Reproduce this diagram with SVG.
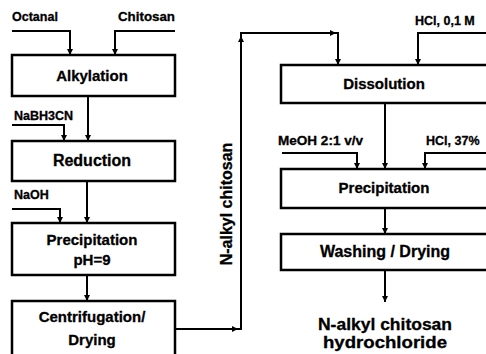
<svg xmlns="http://www.w3.org/2000/svg" width="486" height="354" viewBox="0 0 486 354">
<style>
.box{fill:#fff;stroke:#000;stroke-width:2.5}
.c{fill:none;stroke:#000;stroke-width:2}
.t{font-family:"Liberation Sans",Arial,sans-serif;font-weight:bold;font-size:15px;text-anchor:middle;fill:#000;stroke:#000;stroke-width:0.3}
.s{font-family:"Liberation Sans",Arial,sans-serif;font-weight:bold;font-size:12.5px;fill:#000;stroke:#000;stroke-width:0.3}
.ah{fill:#000}
</style>
<defs>
<marker id="arr" viewBox="0 0 10 10" refX="10" refY="5" markerWidth="3" markerHeight="3" orient="auto" markerUnits="strokeWidth">
<path d="M0,0 L10,5 L0,10 Z" fill="#000"/>
</marker>
</defs>
<rect x="-10" y="-10" width="506" height="374" fill="#fff"/>
<g id="connectors">
<path class="c" d="M12,31 H70 V55" marker-end="url(#arr)"/>
<path class="c" d="M175,31 H115 V55" marker-end="url(#arr)"/>
<path class="c" d="M88,96 V141" marker-end="url(#arr)"/>
<path class="c" d="M12,125 H64 V141" marker-end="url(#arr)"/>
<path class="c" d="M87,181 V223" marker-end="url(#arr)"/>
<path class="c" d="M12,209 H60 V223" marker-end="url(#arr)"/>
<path class="c" d="M87,275 V301" marker-end="url(#arr)"/>
<path class="c" d="M175,329 H241 V33 H338 V65" marker-end="url(#arr)"/>
<polygon class="ah" points="238,329 232,326 232,332"/>
<polygon class="ah" points="241,36 238,42 244,42"/>
<polygon class="ah" points="336,33 330,30 330,36"/>
<path class="c" d="M490,33 H418 V65" marker-end="url(#arr)"/>
<path class="c" d="M385,103 V169" marker-end="url(#arr)"/>
<path class="c" d="M282,153 H357 V169" marker-end="url(#arr)"/>
<path class="c" d="M490,153 H425 V169" marker-end="url(#arr)"/>
<path class="c" d="M385,208 V234" marker-end="url(#arr)"/>
<path class="c" d="M385,270 V302" marker-end="url(#arr)"/>
</g>
<g id="labels">
<text class="s" x="12" y="21">Octanal</text>
<text class="s" x="118" y="21" textLength="57" lengthAdjust="spacingAndGlyphs">Chitosan</text>
<text class="s" x="14" y="120">NaBH3CN</text>
<text class="s" x="14" y="199">NaOH</text>
<text class="s" x="278" y="145" textLength="85" lengthAdjust="spacingAndGlyphs">MeOH 2:1 v/v</text>
<text class="s" x="426" y="145">HCl, 37%</text>
<text class="s" x="415" y="25">HCl, 0,1 M</text>
<text class="t" transform="translate(232,204) rotate(-90)" style="font-size:16px">N-alkyl chitosan</text>
</g>
<g id="alkylation">
<rect class="box" x="12" y="55" width="163" height="41"/>
<text class="t" x="92" y="81">Alkylation</text>
</g>
<g id="reduction">
<rect class="box" x="12" y="141" width="163" height="40"/>
<text class="t" x="92" y="166" style="font-size:16px">Reduction</text>
</g>
<g id="precipitation1">
<rect class="box" x="12" y="223" width="163" height="52"/>
<text class="t" x="92" y="245">Precipitation</text>
<text class="t" x="92" y="265">pH=9</text>
</g>
<g id="centrifugation">
<rect class="box" x="12" y="301" width="163" height="60"/>
<text class="t" x="92" y="322">Centrifugation/</text>
<text class="t" x="92" y="345">Drying</text>
</g>
<g id="dissolution">
<rect class="box" x="281" y="65" width="215" height="38"/>
<text class="t" x="384" y="89">Dissolution</text>
</g>
<g id="precipitation2">
<rect class="box" x="281" y="169" width="215" height="39"/>
<text class="t" x="384" y="193">Precipitation</text>
</g>
<g id="washing">
<rect class="box" x="281" y="234" width="215" height="36"/>
<text class="t" x="385" y="257" style="font-size:16px">Washing / Drying</text>
</g>
<g id="product">
<text class="t" x="385" y="330" style="font-size:16px" textLength="134" lengthAdjust="spacingAndGlyphs">N-alkyl chitosan</text>
<text class="t" x="385" y="348" style="font-size:16px" textLength="124" lengthAdjust="spacingAndGlyphs">hydrochloride</text>
</g>
</svg>
